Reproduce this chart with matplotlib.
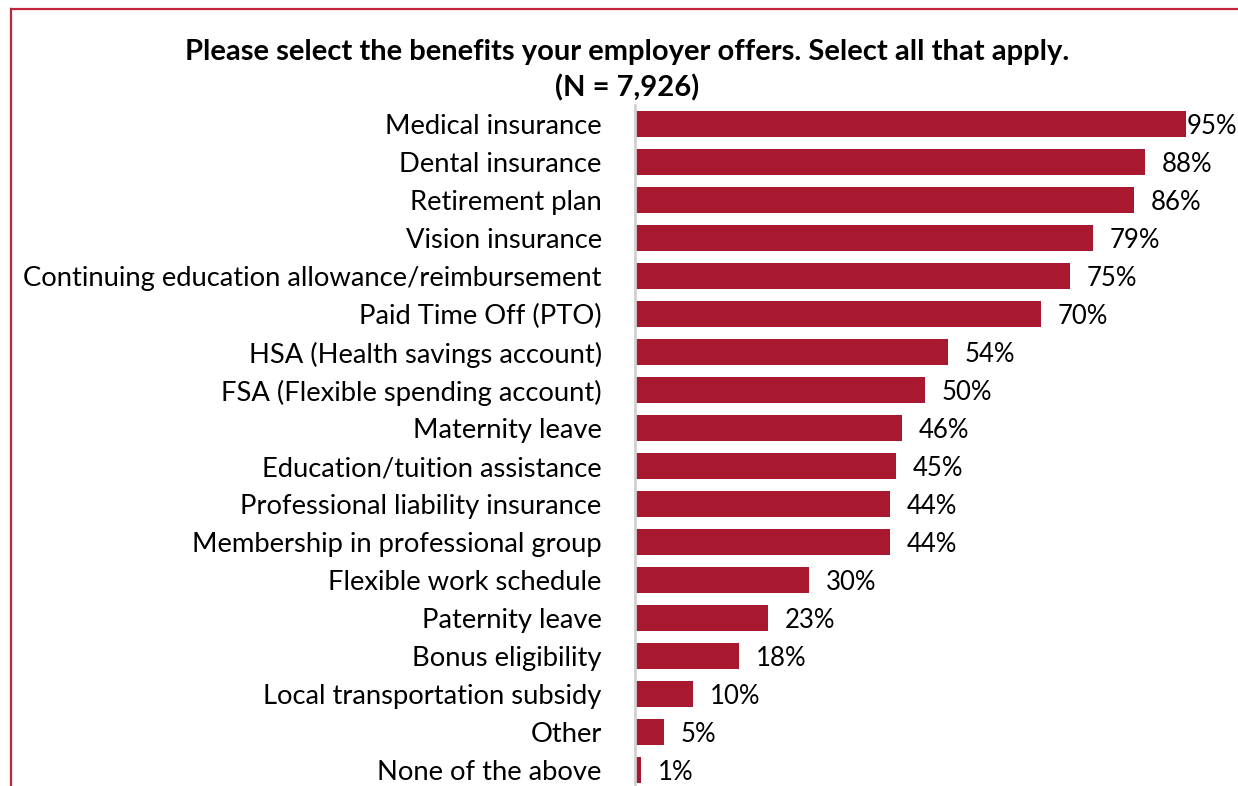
import matplotlib.pyplot as plt
from matplotlib.lines import Line2D

benefits = [
    "Medical insurance",
    "Dental insurance",
    "Retirement plan",
    "Vision insurance",
    "Continuing education allowance/reimbursement",
    "Paid Time Off (PTO)",
    "HSA (Health savings account)",
    "FSA (Flexible spending account)",
    "Maternity leave",
    "Education/tuition assistance",
    "Professional liability insurance",
    "Membership in professional group",
    "Flexible work schedule",
    "Paternity leave",
    "Bonus eligibility",
    "Local transportation subsidy",
    "Other",
    "None of the above",
]
pct = [95, 88, 86, 79, 75, 70, 54, 50, 46, 45, 44, 44, 30, 23, 18, 10, 5, 1]

bar_color = "#A8182F"
frame_color = "#C1243A"

plt.rcParams["font.family"] = ["Lato", "DejaVu Sans"]

fig = plt.figure(figsize=(12.38, 7.86), dpi=100)
W, H = 1238, 786

# axes placed in pixel terms: left 635, top 105, right 1238, bottom 786
ax = fig.add_axes([635 / W, 0, (W - 635) / W, (H - 105) / H])

ypos = list(range(len(benefits)))
ax.barh(ypos, pct, height=0.66, color=bar_color)
ax.set_xlim(0, 104)
ax.set_ylim(-0.5 + 681 / 38, -0.5)

ax.set_yticks(ypos)
ax.set_yticklabels(benefits, fontsize=19.7)
ax.tick_params(axis="y", length=0, pad=24)
ax.set_xticks([])
for s in ["top", "right", "bottom"]:
    ax.spines[s].set_visible(False)
ax.spines["left"].set_color("#D0D0D0")
ax.spines["left"].set_linewidth(2)

for y, v in zip(ypos, pct):
    off = 0.5 if v == max(pct) else 12
    ax.annotate(f"{v}%", (v, y), xytext=(off, -2), textcoords="offset points",
                va="center", ha="left", fontsize=18.5)

fig.text(627 / W, 1 - 52 / H, "Please select the benefits your employer offers. Select all that apply.",
         ha="center", va="center", fontsize=21, fontweight="bold")
fig.text(627 / W, 1 - 88 / H, "(N = 7,926)",
         ha="center", va="center", fontsize=21, fontweight="bold")

# red frame around the chart (top and left edges visible)
fig.add_artist(Line2D([11 / W, 1], [1 - 9 / H, 1 - 9 / H], transform=fig.transFigure,
                      color=frame_color, lw=1.6))
fig.add_artist(Line2D([11 / W, 11 / W], [0, 1 - 9 / H], transform=fig.transFigure,
                      color=frame_color, lw=1.6))

fig.savefig("out.png", dpi=100)
